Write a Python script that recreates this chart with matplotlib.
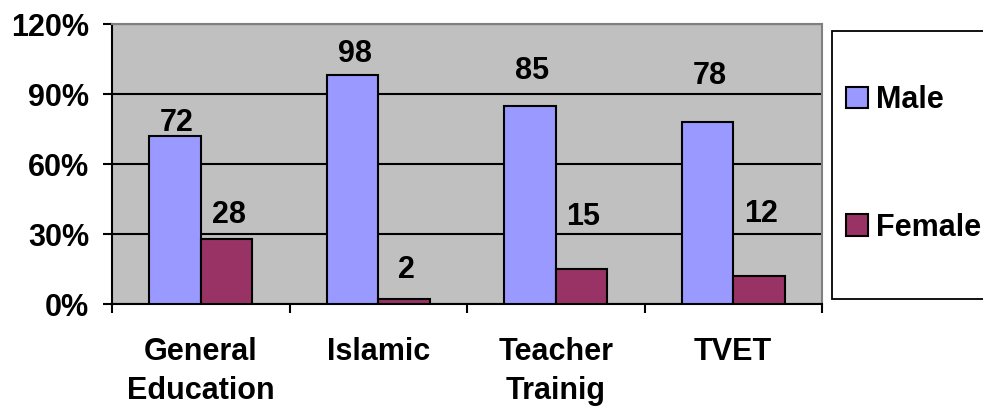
import numpy as np
import matplotlib
matplotlib.use("Agg")
import matplotlib.pyplot as plt
from matplotlib.patches import Rectangle
from matplotlib.ticker import FixedLocator, PercentFormatter

categories = ["General\nEducation", "Islamic", "Teacher\nTrainig", "TVET"]
male = [72, 98, 85, 78]
female = [28, 2, 15, 12]
y_ticks = [0, 30, 60, 90, 120]

# vertical offsets (points) of each value label above its bar
male_label_pad = [3.5, 9.5, 19.5, 27.5]
female_label_pad = [11.5, 15.0, 31.5, 39.0]

plt.rcParams["font.family"] = ["Liberation Sans", "DejaVu Sans"]
plt.rcParams["font.weight"] = "bold"
FS = 22

fig = plt.figure(figsize=(9.83, 4.13), dpi=100)
W, H = 983, 413
ax = fig.add_axes([112 / W, (H - 304) / H, 710 / W, 280 / H])
ax.set_facecolor("#C0C0C0")

x = np.arange(len(categories))
bw = 0.29
male_frac = np.array(male) / 100
female_frac = np.array(female) / 100
b1 = ax.bar(x - bw / 2, male_frac, bw, color="#9999FF", edgecolor="black",
            linewidth=1.5, label="Male", zorder=3)
b2 = ax.bar(x + bw / 2, female_frac, bw, color="#993366", edgecolor="black",
            linewidth=1.5, label="Female", zorder=3)

for bars, vals, pads in ((b1, male, male_label_pad), (b2, female, female_label_pad)):
    for rect, v, p in zip(bars, vals, pads):
        ax.annotate(f"{v}", (rect.get_x() + rect.get_width() / 2, rect.get_height()),
                    xytext=(1.5, p), textcoords="offset points",
                    ha="center", va="baseline", fontsize=FS, fontweight="bold",
                    zorder=4)

ax.set_xlim(-0.5, len(categories) - 0.5)
ax.set_ylim(0, 1.2)
ax.set_yticks(np.array(y_ticks) / 100)
ax.yaxis.set_major_formatter(PercentFormatter(1.0, decimals=0))
ax.yaxis.grid(True, color="black", linewidth=1.5, zorder=1)
ax.set_axisbelow(True)

ax.set_xticks(x)
ax.set_xticklabels(categories, fontsize=FS, fontweight="bold", linespacing=1.36)
ax.xaxis.set_minor_locator(FixedLocator(np.arange(len(categories) + 1) - 0.5))
ax.tick_params(axis="x", which="major", length=0, pad=24)
ax.tick_params(axis="x", which="minor", length=6.5, width=1.5, direction="out")
ax.tick_params(axis="y", which="major", length=6.5, width=1.5, direction="out",
               labelsize=FS, pad=10)
for lab in ax.get_yticklabels():
    lab.set_fontweight("bold")

for side in ("left", "bottom"):
    ax.spines[side].set_color("black")
    ax.spines[side].set_linewidth(1.5)
for side in ("top", "right"):
    ax.spines[side].set_color("#808080")
    ax.spines[side].set_linewidth(1.5)

# legend box on the right, running past the figure edge
fig.add_artist(Rectangle((832 / W, (H - 299) / H), 170 / W, 268 / H,
                         transform=fig.transFigure, facecolor="white",
                         edgecolor="black", linewidth=1.3, zorder=0))
leg = fig.legend(handles=[b1, b2], labels=["Male", "Female"],
                 loc="center left", bbox_to_anchor=(846 / W, 1 - 164 / H),
                 frameon=False, borderpad=0, borderaxespad=0,
                 handlelength=0.72, handleheight=0.7, handletextpad=0.27,
                 labelspacing=3.2, prop={"weight": "bold", "size": FS})

fig.savefig("out.png", dpi=100)
